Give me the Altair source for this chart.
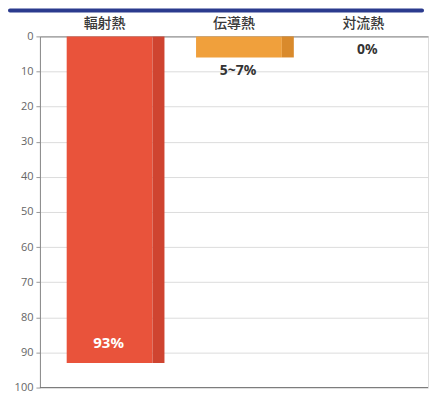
import altair as alt
import pandas as pd

categories = ["輻射熱", "伝導熱", "対流熱"]
values = [93, 6, 0]
labels = ["93%", "5~7%", "0%"]
y_ticks = [0, 10, 20, 30, 40, 50, 60, 70, 80, 90, 100]

front_colors = ["#e9533b", "#f0a03c", "#ffffff"]
side_colors = ["#cf4430", "#d98a2c", "#ffffff"]

df = pd.DataFrame({
    "cat": categories,
    "value": values,
    "label": labels,
    "front": front_colors,
    "side": side_colors,
})

W, H = 389, 352

x_axis = alt.Axis(orient="top", title=None, labelAngle=0, ticks=False,
                  domain=True, domainColor="#8a8a8a", labelPadding=6,
                  labelFont="Noto Sans CJK JP", labelFontSize=14,
                  labelColor="#3a3a3a", labelFontWeight=500)
y_axis = alt.Axis(title=None, values=y_ticks, grid=True, gridColor="#dcdcdc",
                  domainColor="#8a8a8a", tickColor="#9a9a9a", tickSize=4,
                  labelFont="Open Sans", labelFontSize=11, labelColor="#666666",
                  labelPadding=3, labelOverlap=False)
x_scale = alt.Scale(paddingInner=0, paddingOuter=0)
y_scale = alt.Scale(domain=[0, 100], reverse=True, nice=False)

x_enc = alt.X("cat:N", sort=categories, scale=x_scale, axis=x_axis)
y_enc = alt.Y("value:Q", scale=y_scale, axis=y_axis)

base = alt.Chart(df)

front = base.transform_filter("datum.value > 0").mark_bar(size=86, xOffset=5).encode(
    x=x_enc, y=y_enc, color=alt.Color("front:N", scale=None))

side = base.transform_filter("datum.value > 0").mark_bar(size=12, xOffset=54).encode(
    x=x_enc, y=y_enc, color=alt.Color("side:N", scale=None))

inside = base.transform_filter("datum.value > 50").mark_text(
    font="Noto Sans", fontWeight="bold", fontSize=15, color="white", dy=-20, xOffset=4
).encode(x=x_enc, y=y_enc, text="label:N")

outside = base.transform_filter("datum.value <= 50").mark_text(
    font="Noto Sans", fontWeight="bold", fontSize=14, color="#333333", baseline="top", dy=7, xOffset=4
).encode(x=x_enc, y=y_enc, text="label:N")

bottom = alt.Chart(pd.DataFrame({"value": [100]})).mark_rule(color="#777777", strokeWidth=1).encode(
    y=y_enc)

band = alt.Chart(pd.DataFrame({"v": [0]})).mark_rect(color="#2b3b8e", cornerRadius=3).encode(
    x=alt.value(-32), x2=alt.value(W - 4), y=alt.value(-28), y2=alt.value(-24))

chart = alt.layer(band, front, side, inside, outside, bottom).properties(
    width=W, height=H, padding=0
).configure_view(stroke=None).configure(background="white")

chart.save("out.html", embed_options={"renderer": "svg", "actions": False})
